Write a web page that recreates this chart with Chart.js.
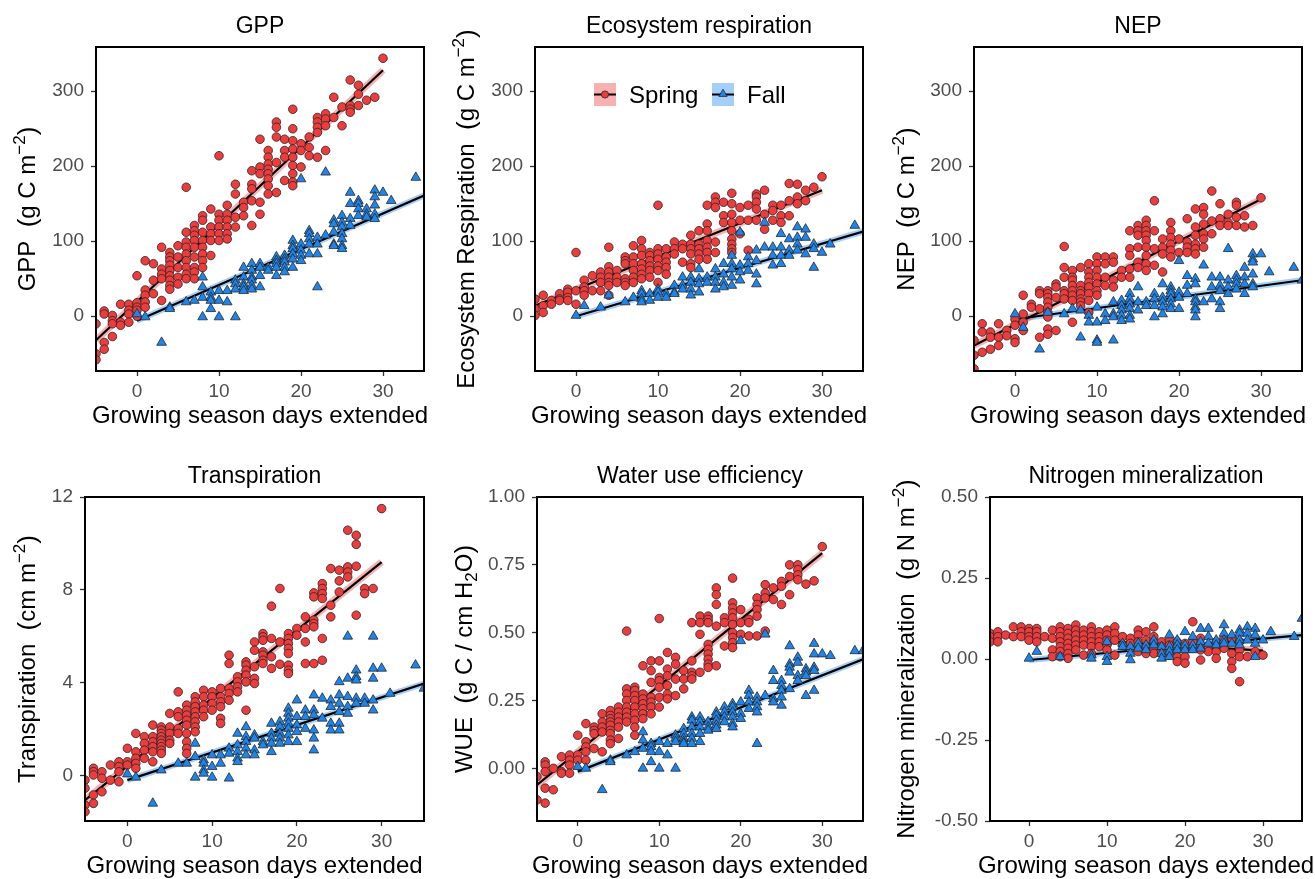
<!doctype html>
<html lang="en">
  <head>
    <meta charset="utf-8">
    <title>Growing season extension effects</title>
    <style>
      * { margin: 0; padding: 0; }
      body { background: #fff; width: 1315px; height: 879px; overflow: hidden; }
      #wrap { position: relative; width: 1315px; height: 879px; }
      #wrap canvas { position: absolute; left: 0; top: 0; }
    </style>
  </head>
  <body>
    <div id="wrap"></div>
    <script src="https://cdn.jsdelivr.net/npm/chart.js"></script>
    <script>
// ---- data: [day, [values...]] ----
const gppSpring = [[-5,[-10,-50,-58]],[-4,[7,3,-35,-44]],[-3,[1,-6,-10,-27]],[-2,[16,-8,-12]],[-1,[16,8,3,-8]],[0,[54,18,12,8,0]],[1,[74,35,28,19,12]],[2,[70,48,30]],[3,[92,63,56,50,21]],[4,[85,79,74,68,61,54,48,41,36]],[5,[94,79,65,52,43]],[6,[172,112,99,92,83,74,65,56,50]],[7,[121,114,108,101,92,79,65,59,50]],[8,[134,128,112,101,92,83,74,65]],[9,[143,119,110,101,81]],[10,[214,136,128,119,110,101]],[11,[148,136,128,119,110,103]],[12,[176,163,132,119]],[13,[152,145,134]],[14,[194,176,170,154,121]],[15,[236,199,190,152,136]],[16,[221,212,203,196,190,183,174,163]],[17,[259,252,239,205,165]],[18,[236,221,212,181]],[19,[276,250,234,223,212,201,190,179,174]],[20,[230,221,199]],[21,[239,225,214]],[22,[265,259,252,245,212]],[23,[270,263,254,221]],[24,[292,265]],[25,[279,254]],[26,[315,281,276,272]],[27,[308,296,281]],[28,[288]],[29,[292]],[30,[344]]];
const gppFall = [[0,[3]],[1,[-1]],[3,[-35]],[4,[12,10]],[6,[19]],[7,[21]],[8,[52,39,25,-1]],[9,[32,25,21,10]],[10,[34,21,-1]],[11,[34,19]],[12,[48,43,36,-1]],[13,[65,52,43,39,34]],[14,[70,61,52,48,41,36]],[15,[70,65,54,39]],[16,[65,61]],[17,[79,74,70,65,54]],[18,[81,76,72,65,59]],[19,[101,94,90,83,76,65]],[20,[183,96,88,81,74]],[21,[114,110,103,96,83]],[22,[105,96,83,39]],[23,[192,108]],[24,[128,123,112,96,94]],[25,[134,125,119,110,103,94,90]],[26,[165,150,130,121]],[27,[154,150,143,134]],[28,[143,136,132]],[29,[168,159,148,136,130]],[30,[165]],[31,[154]],[34,[185]]];
const gppSpringFit = [[-5,-32],[30,328]];
const gppFallFit = [[0,-6],[35,161]];

const erSpring = [[-5,[23,10,1]],[-4,[28,14,5]],[-3,[21,16]],[-2,[30,23,21]],[-1,[36,32,25,21]],[0,[85,34,16]],[1,[48,39,34,28]],[2,[54,34]],[3,[59,52,45,34]],[4,[92,66,59,52,45,41,28]],[5,[61,52,45]],[6,[79,74,70,50,45,41]],[7,[94,79,70,61,52,45]],[8,[101,90,81,70,63,56,50]],[9,[85,81,74,67,61,52]],[10,[148,90,83,76,67,61,45]],[11,[90,79,72,65,56]],[12,[99,90,83]],[13,[96,90,72]],[14,[108,96,90,83,70,65]],[15,[114,96,90,83,76]],[16,[148,123,114,101,92,85,76]],[17,[159,152,145,99,85]],[18,[152,134,125]],[19,[164,150,136,125,114,103,96,90,85]],[20,[145,128,110]],[21,[148,128,88]],[22,[163,159,152,143,128]],[23,[168,136,116]],[24,[148,141,128]],[25,[148,134,125]],[26,[177,154,134]],[27,[176,159,150]],[28,[168,154]],[29,[172]],[30,[186]]];
const erFall = [[0,[1]],[1,[14]],[3,[12]],[4,[28]],[6,[19]],[7,[25]],[8,[34,30,23,19]],[9,[30,21]],[10,[36,32,25]],[11,[30,25]],[12,[41,32,30]],[13,[52,41,36]],[14,[52,45,36,28]],[15,[63,50,43,32]],[16,[52,45]],[17,[63,52,45,36]],[18,[70,56,45,39]],[19,[81,70,63,52,41]],[20,[112,68,59,48]],[21,[79,70,61]],[22,[88,74,56,43]],[23,[125,92]],[24,[92,81,68]],[25,[110,92,81,70]],[26,[103,88,81]],[27,[119,105,96,88]],[28,[116,105,83]],[29,[96,90,65]],[30,[85]],[31,[96]],[34,[121]]];
const erSpringFit = [[-5,14],[30,168]];
const erFallFit = [[0,0],[35,113]];

const nepSpring = [[-5,[-32,-52,-70]],[-4,[-10,-21,-48]],[-3,[-21,-28,-44]],[-2,[-10,-28,-39]],[-1,[-19,-26]],[0,[-4,-12,-30,-35]],[1,[28,3,-8,-19]],[2,[16,12]],[3,[34,30,10,-28]],[4,[34,30,25,19,12,5,-1,-17,-24]],[5,[43,39,25,-19]],[6,[93,65,52,34,30,23]],[7,[61,52,48,41,34,28,21,-8]],[8,[65,41,34,30,23,19,14]],[9,[70,59,52,45,39,30,21,5]],[10,[79,70,61,52,43,34,28]],[11,[79,70,52,41]],[12,[79,72,48,39]],[13,[61,52]],[14,[114,90,81,63,52]],[15,[121,114,108,92,72,65]],[16,[128,121,114,108,101,92,81,70,61]],[17,[154,114,90,68]],[18,[103,92,83,59]],[19,[125,114,105,96,88,79]],[20,[103,85]],[21,[130,99,92,85]],[22,[143,119,108,96,90,83]],[23,[145,136,123,110,103,92]],[24,[167,127,110]],[25,[150,130,121]],[26,[136,125,121]],[27,[152,148,132,121]],[28,[134,119]],[29,[121]],[30,[158]]];
const nepFall = [[0,[3]],[1,[-15]],[3,[-44]],[4,[5]],[6,[3]],[7,[10]],[8,[8,-28]],[9,[1,-8]],[10,[12,-8,-32,-35]],[11,[3,-6]],[12,[19,3,-1,-32]],[13,[21,14,8,1,-6]],[14,[30,23,16,10,1,-4]],[15,[39,19,8]],[16,[19,14]],[17,[30,23,14,-1]],[18,[43,25,19,12,3]],[19,[39,34,30,23,16,10]],[20,[74,32,25,10]],[21,[54,41,30]],[22,[50,43,23,19,12,8,-1]],[23,[68,19]],[24,[52,39,23]],[25,[52,41,34,19,10]],[26,[90,48,39,30]],[27,[54,48,43,36]],[28,[65,52,43,30]],[29,[83,76,72,56,43,39]],[30,[83]],[31,[59]],[34,[65]],[35,[48]]];
const nepSpringFit = [[-5,-39],[30,156]];
const nepFallFit = [[0,-4],[35,48]];

const trSpring = [[-5,[-0.19,-0.54,-1.26,-1.55]],[-4,[0.32,0.17,0.03,-0.83,-1.19]],[-3,[0.17,-0.11,-0.69]],[-2,[0.46,-0.19]],[-1,[0.6,0.39,0.17,-0.26]],[0,[1.18,0.6,0.46]],[1,[1.82,1.03,0.75,0.53,0.32]],[2,[1.68,1.39,1.1,0.75]],[3,[2.18,1.68,1.46,1.25,1.03,0.6]],[4,[2.1,1.96,1.82,1.68,1.53,1.39,1.25,1.1,0.96]],[5,[2.68,2.1,1.82,1.53,1.39]],[6,[3.61,2.75,2.54,2.03,1.82]],[7,[3.04,2.82,2.61,2.39,2.18,1.82,1.46,1.18,0.96]],[8,[3.4,3.18,2.97,2.75,2.54,2.32,2.1,1.89]],[9,[3.68,3.4,3.04,2.82,2.54]],[10,[3.61,3.4,3.11,2.82]],[11,[3.76,3.4,3.18,2.97,2.47,2.25]],[12,[5.19,4.83,3.76,3.54,3.25]],[13,[4.26,4.04,3.83,3.61]],[14,[4.9,4.76,4.54,4.33,4.04,2.82]],[15,[5.76,5.4,4.69,4.19,3.97]],[16,[6.12,5.98,5.83,5.33,5.19,4.97,4.83]],[17,[7.3,5.91,5.12,4.62]],[18,[8.06,5.76,4.8]],[19,[6.12,5.91,5.69,5.48,5.26,4.76,4.54,4.4]],[20,[6.34,6.05]],[21,[6.84,6.34,5.76,4.83]],[22,[7.87,7.7,6.7,6.55,6.41,4.83]],[23,[8.27,8.06,7.84,7.63,5.91,4.97]],[24,[8.92,7.34,6.84]],[25,[8.85,8.39,7.91]],[26,[10.57,8.99,8.77,8.56]],[27,[10.35,9.96,9.02,6.91]],[28,[8.06,7.84]],[29,[8.06]],[30,[11.5]]];
const trFall = [[0,[0.07]],[1,[-0.07]],[3,[-1.19]],[4,[0.24]],[6,[0.53]],[7,[0.53]],[8,[1.39,0.82,-0.07]],[9,[0.67,0.53,0.24,0.1]],[10,[0.89,0.39,-0.07]],[11,[0.89,0.53]],[12,[1.18,0.96,-0.11]],[13,[1.82,1.32,1.03,0.75,0.6]],[14,[2.1,1.68,1.46,1.18,0.89]],[15,[1.75,1.61,1.1,0.89]],[16,[1.46,1.32]],[17,[2.25,1.82,1.61,1.39,1.03]],[18,[2.32,2.1,1.82,1.61,1.39]],[19,[2.9,2.68,2.47,2.25,2.03,1.75,1.46]],[20,[3.25,2.54,2.18,1.89,1.46]],[21,[2.82,2.54,2.03]],[22,[3.47,2.82,2.61,1.96,1.61,1.1]],[23,[3.33,2.47]],[24,[3.25,2.97,2.25,1.96]],[25,[4.04,3.47,3.11,2.75,2.25,1.96]],[26,[6.0,4.19,3.4,2.97,2.68]],[27,[4.54,4.26,4.11,3.33,3.11]],[28,[3.33,3.11]],[29,[6.0,4.62,4.19,3.25,2.82]],[30,[4.62]],[31,[3.54]],[34,[4.76]],[35,[3.76]]];
const trSpringFit = [[-5,-1.05],[30,9.2]];
const trFallFit = [[0,-0.19],[35,3.97]];

const wueSpring = [[-5,[-0.03,-0.116]],[-4,[0.024,0.012,-0.012,-0.073,-0.128]],[-3,[0,-0.079]],[-2,[0.043,-0.012,-0.018]],[-1,[0.049,0.03,0.012,-0.018]],[0,[0.122,0.049,0.03]],[1,[0.165,0.098,0.079,0.061,0.03]],[2,[0.152,0.14,0.128,0.073]],[3,[0.201,0.171,0.152,0.134,0.061]],[4,[0.213,0.195,0.183,0.171,0.159,0.14,0.128,0.104,0.091]],[5,[0.226,0.207,0.189,0.171,0.152,0.11]],[6,[0.506,0.293,0.274,0.25,0.226,0.207,0.189,0.171]],[7,[0.299,0.287,0.268,0.25,0.226,0.201,0.177,0.152,0.122]],[8,[0.378,0.274,0.256,0.238,0.22,0.201,0.183]],[9,[0.396,0.36,0.317,0.262,0.244,0.226,0.201]],[10,[0.552,0.396,0.335,0.323,0.299,0.262,0.226]],[11,[0.427,0.366,0.341,0.305,0.274,0.256]],[12,[0.409,0.384,0.329,0.268]],[13,[0.36,0.329,0.293]],[14,[0.537,0.396,0.354,0.341,0.329]],[15,[0.561,0.537,0.494,0.354]],[16,[0.561,0.549,0.537,0.457,0.439,0.421,0.402,0.384,0.372]],[17,[0.665,0.64,0.604,0.524,0.378]],[18,[0.555,0.537,0.451]],[19,[0.701,0.61,0.591,0.573,0.555,0.53,0.5,0.482,0.463,0.445]],[20,[0.585,0.537,0.494]],[21,[0.549,0.537,0.488]],[22,[0.628,0.604,0.585,0.561,0.488]],[23,[0.677,0.646,0.628,0.506]],[24,[0.665,0.622]],[25,[0.689,0.671,0.604]],[26,[0.75,0.707,0.64]],[27,[0.75,0.732,0.713,0.695]],[28,[0.679]],[29,[0.691]],[30,[0.817]]];
const wueFall = [[0,[0.006]],[1,[0]],[3,[-0.079]],[4,[0.03,0.024]],[6,[0.049]],[7,[0.061]],[8,[0.134,0.104,0.073,0]],[9,[0.091,0.079,0.061,0.024]],[10,[0.098,0.061,0]],[11,[0.091,0.049]],[12,[0.122,0.11,0.098,0]],[13,[0.146,0.128,0.11,0.098,0.091]],[14,[0.189,0.177,0.152,0.128,0.11,0.091]],[15,[0.189,0.171,0.152,0.128,0.098]],[16,[0.171,0.152,0.14]],[17,[0.207,0.195,0.177,0.159,0.146]],[18,[0.226,0.207,0.189,0.171]],[19,[0.238,0.226,0.207,0.189,0.165,0.152]],[20,[0.47,0.244,0.201,0.183]],[21,[0.287,0.268,0.244,0.22]],[22,[0.262,0.244,0.226,0.207,0.091]],[23,[0.494,0.268]],[24,[0.36,0.323,0.256,0.244]],[25,[0.323,0.305,0.287,0.262,0.232]],[26,[0.451,0.384,0.372,0.354,0.293]],[27,[0.409,0.39,0.341,0.323]],[28,[0.366,0.354,0.341,0.268]],[29,[0.46,0.421,0.372,0.36,0.287]],[30,[0.421]],[31,[0.415]],[34,[0.433]],[35,[0.433]]];
const wueSpringFit = [[-5,-0.061],[30,0.793]];
const wueFallFit = [[0,-0.012],[35,0.402]];

const nSpring = [[-5,[0.079,0.069,0.053]],[-4,[0.084,0.069,0.053]],[-3,[0.074]],[-2,[0.099,0.069]],[-1,[0.099,0.084,0.069]],[0,[0.094,0.084,0.069,0.058]],[1,[0.094,0.084,0.069,0.053]],[2,[0.069]],[3,[0.089,0.064,0.028,0.007]],[4,[0.099,0.084,0.069,0.053,0.038,0.023,0.007]],[5,[0.094,0.079,0.064,0.048,0.033,0.017,0.002]],[6,[0.105,0.089,0.074,0.058,0.043,0.028]],[7,[0.089,0.074,0.058,0.043,0.012]],[8,[0.099,0.084,0.069,0.053,0.038,0.017]],[9,[0.084,0.069,0.053,0.038]],[10,[0.089,0.074,0.058,0.043,0.028]],[11,[0.099,0.079,0.058,0.012]],[12,[0.069,0.043]],[13,[0.064,0.048,0.033]],[14,[0.089,0.074,0.053,0.038,0.023]],[15,[0.084,0.058,0.038,0.017]],[16,[0.099,0.069,0.053,0.033,0.017]],[17,[0.053,0.038,0.017]],[18,[0.058,0.043,0.028,0.012]],[19,[0.053,0.038,0.028,0.007,-0.008]],[20,[0.048,0.033,0.007,-0.013]],[21,[0.115,0.053,0.033]],[22,[0.064,0.043,0.028,-0.003]],[23,[0.038,0.023]],[24,[0.053,0.023,0.002]],[25,[0.064,0.033]],[26,[0.064,0.017,-0.008,-0.029]],[27,[0.053,0.028,0.007,-0.07]],[28,[0.007]],[29,[0.023]],[30,[0.012]]];
const nFall = [[0,[0.002]],[1,[0.023]],[4,[0.007]],[8,[0.012,0.002]],[10,[0.053,0.007,-0.008]],[12,[0.048,0.038]],[13,[0.038,0.017,-0.003]],[14,[0.048,0.033]],[15,[0.043,0.028]],[16,[0.058,0.043]],[17,[0.038,0.017,0.002]],[18,[0.074,0.038,0.023,0.007]],[19,[0.058,0.043,0.028]],[20,[0.084,0.043,0.028]],[21,[0.069,0.043,0.028]],[22,[0.094,0.053,0.033]],[23,[0.094,0.069,0.048]],[24,[0.058,0.043]],[25,[0.105,0.079,0.058,0.048]],[26,[0.074,0.048]],[27,[0.089,0.079,0.058,0.043]],[28,[0.099,0.079,0.058]],[29,[0.094,0.074,0.048,0.007]],[30,[0.058]],[31,[0.084]],[34,[0.069]],[35,[0.125]]];
const nSpringFit = [[-5,0.077],[30,0.026]];
const nFallFit = [[0,-0.003],[35,0.074]];

// ticks
const xTicks = [0, 10, 20, 30];
const carbonTicks = [0, 100, 200, 300];
const carbonLabels = ['0', '100', '200', '300'];
const trTicks = [0, 4, 8, 12];
const trLabels = ['0', '4', '8', '12'];
const wueTicks = [0, 0.25, 0.5, 0.75, 1];
const wueLabels = ['0.00', '0.25', '0.50', '0.75', '1.00'];
const nTicks = [-0.5, -0.25, 0, 0.25, 0.5];
const nLabels = ['-0.50', '-0.25', '0.00', '0.25', '0.50'];

const W = 1315, H = 879;
const RED = '#EE3B3B', BLUE = '#1C86EE', EDGE = '#262626';
const RED_RIB = 'rgba(238,59,59,0.4)', BLUE_RIB = 'rgba(28,134,238,0.4)';
const FONT = '"Liberation Sans", Arial, Helvetica, sans-serif';
Chart.defaults.font.family = FONT;

const panels = [
  { title: 'GPP', yTitle: [['GPP  '], ['(', 'p'], ['g C m'], ['\u22122', 'sup'], [')', 'p']],
    spring: gppSpring, fall: gppFall, springFit: gppSpringFit, fallFit: gppFallFit,
    yMin: -73, yMax: 359, yTicks: carbonTicks, yLabels: carbonLabels,
    box: { l: 96, r: 424, t: 47, b: 371 }, yTitleX: 35 },
  { title: 'Ecosystem respiration', yTitle: [['Ecosystem Respiration  '], ['(', 'p'], ['g C m'], ['\u22122', 'sup'], [')', 'p']],
    spring: erSpring, fall: erFall, springFit: erSpringFit, fallFit: erFallFit,
    yMin: -73, yMax: 359, yTicks: carbonTicks, yLabels: carbonLabels,
    box: { l: 535, r: 863, t: 47, b: 371 }, yTitleX: 474, legend: true },
  { title: 'NEP', yTitle: [['NEP  '], ['(', 'p'], ['g C m'], ['\u22122', 'sup'], [')', 'p']],
    spring: nepSpring, fall: nepFall, springFit: nepSpringFit, fallFit: nepFallFit,
    yMin: -73, yMax: 359, yTicks: carbonTicks, yLabels: carbonLabels,
    box: { l: 974, r: 1302, t: 47, b: 371 }, yTitleX: 914 },
  { title: 'Transpiration', yTitle: [['Transpiration  '], ['(', 'p'], ['cm m'], ['\u22122', 'sup'], [')', 'p']],
    spring: trSpring, fall: trFall, springFit: trSpringFit, fallFit: trFallFit,
    yMin: -1.95, yMax: 12, yTicks: trTicks, yLabels: trLabels,
    box: { l: 85, r: 424, t: 497, b: 821 }, yTitleX: 35 },
  { title: 'Water use efficiency', yTitle: [['WUE  '], ['(', 'p'], ['g C / cm H'], ['2', 'sub'], ['O'], [')', 'p']],
    spring: wueSpring, fall: wueFall, springFit: wueSpringFit, fallFit: wueFallFit,
    yMin: -0.194, yMax: 1.0, yTicks: wueTicks, yLabels: wueLabels,
    box: { l: 537, r: 863, t: 497, b: 821 }, yTitleX: 472 },
  { title: 'Nitrogen mineralization', yTitle: [['Nitrogen mineralization  '], ['(', 'p'], ['g N m'], ['\u22122', 'sup'], [')', 'p']],
    spring: nSpring, fall: nFall, springFit: nSpringFit, fallFit: nFallFit,
    yMin: -0.5, yMax: 0.5, yTicks: nTicks, yLabels: nLabels,
    box: { l: 990, r: 1302, t: 497, b: 821 }, yTitleX: 914 }
];

function points(groups) {
  const out = [];
  groups.forEach(([x, ys]) => ys.forEach(y => out.push({ x, y })));
  return out;
}
function fit(pairs) {
  return pairs.map(([x, y]) => ({ x, y }));
}

function segFont(kind) {
  if (kind === 'sup' || kind === 'sub') return '17px ' + FONT;
  if (kind === 'p') return '26px ' + FONT;
  return '24px ' + FONT;
}

// draws a rotated y title made of plain / superscript / subscript pieces
function drawRotatedTitle(ctx, segs, xBase, yMid) {
  ctx.save();
  ctx.translate(xBase, yMid);
  ctx.rotate(-Math.PI / 2);
  ctx.fillStyle = '#000';
  ctx.textBaseline = 'alphabetic';
  ctx.textAlign = 'left';
  let total = 0;
  segs.forEach(([t, k]) => { ctx.font = segFont(k); total += ctx.measureText(t).width; });
  let x = -total / 2;
  segs.forEach(([t, k]) => {
    ctx.font = segFont(k);
    let dy = 0;
    if (k === 'sup') dy = -10;
    if (k === 'sub') dy = 5;
    if (k === 'p') dy = 1;
    ctx.fillText(t, x, dy);
    x += ctx.measureText(t).width;
  });
  ctx.restore();
}

function drawTriangle(ctx, cx, cy, r) {
  ctx.beginPath();
  ctx.moveTo(cx, cy - r);
  ctx.lineTo(cx + r * 0.866, cy + r * 0.5);
  ctx.lineTo(cx - r * 0.866, cy + r * 0.5);
  ctx.closePath();
}

function drawLegend(ctx) {
  const keys = [
    { x: 594, fill: RED_RIB, col: RED, label: 'Spring', tx: 629, shape: 'circle' },
    { x: 712, fill: BLUE_RIB, col: BLUE, label: 'Fall', tx: 747, shape: 'triangle' }
  ];
  ctx.save();
  keys.forEach(k => {
    const y = 83, w = 22, h = 23;
    ctx.fillStyle = k.fill;
    ctx.fillRect(k.x, y, w, h);
    ctx.strokeStyle = '#000';
    ctx.lineWidth = 2;
    ctx.beginPath();
    ctx.moveTo(k.x, y + h / 2);
    ctx.lineTo(k.x + w, y + h / 2);
    ctx.stroke();
    ctx.fillStyle = k.col;
    ctx.strokeStyle = EDGE;
    ctx.lineWidth = 0.8;
    if (k.shape === 'circle') {
      ctx.beginPath();
      ctx.arc(k.x + w / 2, y + h / 2, 3.6, 0, Math.PI * 2);
    } else {
      drawTriangle(ctx, k.x + w / 2, y + h / 2 - 0.5, 4.8);
    }
    ctx.fill();
    ctx.stroke();
    ctx.fillStyle = '#000';
    ctx.font = '24px ' + FONT;
    ctx.textBaseline = 'alphabetic';
    ctx.textAlign = 'left';
    ctx.fillText(k.label, k.tx, 103);
  });
  ctx.restore();
}

// titles, frame and legend for one panel
const panelDecor = {
  id: 'panelDecor',
  afterDraw(chart, args, opts) {
    const { ctx, chartArea: { left, right, top, bottom } } = chart;
    const p = opts.panel;
    ctx.save();
    ctx.strokeStyle = '#000';
    ctx.lineWidth = 2;
    ctx.strokeRect(left, top, right - left, bottom - top);

    ctx.fillStyle = '#000';
    ctx.textAlign = 'center';
    ctx.textBaseline = 'alphabetic';
    ctx.font = '23px ' + FONT;
    ctx.fillText(p.title, (left + right) / 2, top - 14);
    ctx.font = '24px ' + FONT;
    ctx.fillText('Growing season days extended', (left + right) / 2, bottom + 52);
    ctx.restore();

    drawRotatedTitle(ctx, p.yTitle, p.yTitleX, (top + bottom) / 2);
    if (p.legend) drawLegend(ctx);
  }
};

const wrap = document.getElementById('wrap');
panels.forEach(p => {
  const canvas = document.createElement('canvas');
  canvas.width = W;
  canvas.height = H;
  wrap.appendChild(canvas);

  new Chart(canvas, {
    type: 'scatter',
    data: {
      datasets: [
        { data: points(p.fall), pointStyle: 'triangle', pointRadius: 5.6, backgroundColor: BLUE,
          borderColor: EDGE, borderWidth: 0.8, clip: 0 },
        { data: points(p.spring), pointStyle: 'circle', pointRadius: 4.3, backgroundColor: RED,
          borderColor: EDGE, borderWidth: 0.8, clip: 0 },
        { type: 'line', data: fit(p.springFit), borderColor: '#000', borderWidth: 2.2, pointRadius: 0, clip: 0 },
        { type: 'line', data: fit(p.fallFit), borderColor: '#000', borderWidth: 2.2, pointRadius: 0, clip: 0 },
        { type: 'line', data: fit(p.springFit), borderColor: RED_RIB, borderWidth: 7, pointRadius: 0, clip: 0 },
        { type: 'line', data: fit(p.fallFit), borderColor: BLUE_RIB, borderWidth: 6, pointRadius: 0, clip: 0 }
      ]
    },
    options: {
      responsive: false,
      animation: false,
      devicePixelRatio: 1,
      events: [],
      layout: { padding: { left: 0, top: p.box.t, right: W - p.box.r, bottom: 0 } },
      plugins: {
        legend: { display: false },
        tooltip: { enabled: false },
        panelDecor: { panel: p }
      },
      scales: {
        x: {
          type: 'linear',
          min: -5,
          max: 35,
          afterBuildTicks: (s) => { s.ticks = xTicks.map(v => ({ value: v })); },
          afterFit: (s) => { s.height = H - p.box.b; },
          ticks: { color: '#4D4D4D', font: { size: 19 }, padding: 4, maxRotation: 0, autoSkip: false },
          grid: { drawOnChartArea: false, drawTicks: true, tickLength: 5, tickColor: '#333', tickWidth: 1.3 },
          border: { display: false }
        },
        y: {
          type: 'linear',
          min: p.yMin,
          max: p.yMax,
          afterBuildTicks: (s) => { s.ticks = p.yTicks.map(v => ({ value: v })); },
          afterFit: (s) => { s.width = p.box.l; },
          ticks: { color: '#4D4D4D', font: { size: 19 }, padding: 7, autoSkip: false,
                   callback: (v, i) => p.yLabels[i] },
          grid: { drawOnChartArea: false, drawTicks: true, tickLength: 5, tickColor: '#333', tickWidth: 1.3 },
          border: { display: false }
        }
      }
    },
    plugins: [panelDecor]
  });
});
    </script>
  </body>
</html>
